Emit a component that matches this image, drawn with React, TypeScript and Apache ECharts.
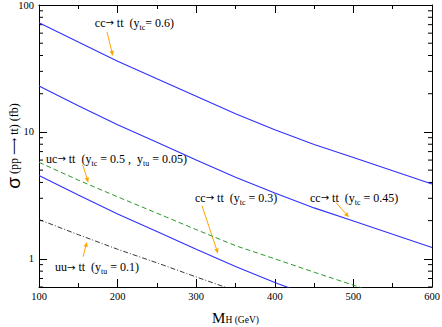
import React, { useEffect, useRef } from 'react';
import * as echarts from 'echarts';

// Higgs mass (GeV)
const massGeV = [100, 150, 200, 250, 300, 350, 400, 450, 500, 550, 600];
// sigma(pp -> tt) in fb
const ccTtYtc060 = [72.6, 51.0, 36.1, 26.2, 19.1, 13.9, 10.4, 7.96, 6.28, 4.94, 3.89];
const ccTtYtc045 = [23.0, 16.1, 11.4, 8.3, 6.0, 4.4, 3.3, 2.52, 1.99, 1.56, 1.23];
const ccTtYtc030 = [4.54, 3.19, 2.26, 1.64, 1.19, 0.87, 0.65, 0.5];
const ucTt = [5.76, 4.17, 3.08, 2.29, 1.7, 1.27, 1.0, 0.785, 0.62, 0.49];
const uuTt = [2.04, 1.55, 1.19, 0.93, 0.72, 0.56];

const xTickValues = [100, 200, 300, 400, 500, 600];
const yMajorLabels = [1, 10, 100];

// annotations: label anchor [M, sigma], arrow from/to [M, sigma]
const annotations = [
  { text: 'cc{a|→} tt  (y{s|tc}= 0.6)', at: [171, 72.2], from: [186.5, 61.3], to: [194, 39.7] },
  { text: 'uc{a|→} tt  (y{s|tc} = 0.5 ,  y{s|tu} = 0.05)', at: [109, 6.12], from: [155.6, 5.52], to: [162.7, 3.98] },
  { text: 'cc{a|→} tt  (y{s|tc} = 0.3)', at: [298.5, 3.03], from: [307.4, 2.62], to: [327.7, 1.1] },
  { text: 'cc{a|→} tt  (y{s|tc} = 0.45)', at: [444.8, 3.03], from: [477.9, 2.77], to: [494.4, 2.13] },
  { text: 'uu{a|→} tt  (y{s|tu} = 0.1)', at: [120.4, 0.855], from: [156, 1.04], to: [161, 1.36] },
];

const FONT = "'Liberation Serif', 'DejaVu Serif', 'Times New Roman', serif";

export default function App() {
  const ref = useRef<HTMLDivElement>(null);
  useEffect(() => {
    const chart = echarts.init(ref.current!, null, { renderer: 'svg' });
    const pair = (ys: number[]) => ys.map((y, i) => [massGeV[i], y]);
    const axisLine = { show: true, onZero: false, lineStyle: { color: '#000', width: 1 } };
    const blue = '#3030ff';
    const option: any = {
      animation: false,
      backgroundColor: '#fff',
      grid: { left: 39, top: 5, right: 10, bottom: 40, containLabel: false, outerBoundsMode: 'none' },
      xAxis: [
        {
          type: 'value', min: 100, max: 600, interval: 100, position: 'bottom',
          axisLine,
          axisTick: { show: true, inside: true, length: 8, lineStyle: { color: '#000' } },
          minorTick: { show: true, splitNumber: 2, length: 4, lineStyle: { color: '#000' } },
          splitLine: { show: false },
          axisLabel: {
            margin: 4, fontFamily: FONT, fontSize: 10.5, color: '#000',
            formatter: (v: number) => (xTickValues.includes(v) ? String(v) : ''),
          },
          name: '{m|M}{h|H (GeV)}',
          nameLocation: 'middle',
          nameGap: 21,
          nameMoveOverlap: false,
          nameTextStyle: {
            fontFamily: FONT, color: '#000',
            rich: {
              m: { fontSize: 15, fontFamily: FONT, lineHeight: 17, verticalAlign: 'bottom', color: '#000' },
              h: { fontSize: 9.5, fontFamily: FONT, lineHeight: 12, verticalAlign: 'bottom', color: '#000' },
            },
          },
        },
        {
          type: 'value', min: 100, max: 600, interval: 100, position: 'top',
          axisLine,
          axisTick: { show: true, inside: true, length: 8, lineStyle: { color: '#000' } },
          minorTick: { show: true, splitNumber: 2, length: 4, lineStyle: { color: '#000' } },
          splitLine: { show: false },
          axisLabel: { show: false },
        },
      ],
      yAxis: [
        {
          type: 'log', logBase: 10, min: 0.6, max: 100, position: 'left',
          axisLine,
          axisTick: { show: true, inside: true, length: 8, lineStyle: { color: '#000' } },
          splitLine: { show: false },
          axisLabel: {
            margin: 5, fontFamily: FONT, fontSize: 10.5, color: '#000',
            formatter: (v: number) => {
              const hit = yMajorLabels.find((t) => Math.abs(t - v) / t < 1e-6);
              return hit !== undefined ? String(hit) : '';
            },
          },
          name: '{g|σ} (pp ⟶ tt) (fb)',
          nameLocation: 'middle',
          nameGap: 16,
          nameRotate: 90,
          nameMoveOverlap: false,
          nameTextStyle: {
            fontFamily: FONT, color: '#000', fontSize: 12,
            rich: {
              g: { fontSize: 19, fontFamily: "'Liberation Sans', sans-serif", lineHeight: 19, verticalAlign: 'bottom', color: '#000' },
            },
          },
        },
        {
          type: 'log', logBase: 10, min: 0.6, max: 100, position: 'right',
          axisLine,
          axisTick: { show: true, inside: true, length: 8, lineStyle: { color: '#000' } },
          splitLine: { show: false },
          axisLabel: { show: false },
        },
      ],
      series: [
        { name: 'cc ytc=0.6', type: 'line', data: pair(ccTtYtc060), showSymbol: false, clip: true, lineStyle: { color: blue, width: 1.1 } },
        { name: 'cc ytc=0.45', type: 'line', data: pair(ccTtYtc045), showSymbol: false, clip: true, lineStyle: { color: blue, width: 1.1 } },
        { name: 'cc ytc=0.3', type: 'line', data: pair(ccTtYtc030), showSymbol: false, clip: true, lineStyle: { color: blue, width: 1.1 } },
        { name: 'uc', type: 'line', data: pair(ucTt), showSymbol: false, clip: true, lineStyle: { color: '#2a9a2a', width: 1, type: [5, 3] } },
        { name: 'uu', type: 'line', data: pair(uuTt), showSymbol: false, clip: true, lineStyle: { color: '#222', width: 0.9, type: [5, 2, 1, 2] } },
      ],
    };
    chart.setOption(option);

    const toPx = (p: number[]) => chart.convertToPixel({ seriesIndex: 0 }, p) as number[];
    const xL = chart.convertToPixel({ xAxisIndex: 0 }, 100) as number;
    const xR = chart.convertToPixel({ xAxisIndex: 0 }, 600) as number;
    const elements: any[] = [];
    // log minor ticks (2..9 per decade)
    [0.1, 1, 10].forEach((d) => {
      for (let k = 2; k <= 9; k++) {
        const v = k * d;
        if (v < 0.6 || v > 100) continue;
        const y = chart.convertToPixel({ yAxisIndex: 0 }, v) as number;
        elements.push({ type: 'line', silent: true, shape: { x1: xL, y1: y, x2: xL + 4, y2: y }, style: { stroke: '#000', lineWidth: 1 } });
        elements.push({ type: 'line', silent: true, shape: { x1: xR - 4, y1: y, x2: xR, y2: y }, style: { stroke: '#000', lineWidth: 1 } });
      }
    });
    const orange = '#ffa500';
    annotations.forEach((a) => {
      const [tx, ty] = toPx(a.at);
      elements.push({
        type: 'text', silent: true, x: tx, y: ty,
        style: {
          text: a.text, fill: '#000', fontFamily: FONT, fontSize: 12, lineHeight: 17,
          align: 'left', verticalAlign: 'middle',
          rich: {
            s: { fontSize: 8, fontFamily: FONT, lineHeight: 8, verticalAlign: 'bottom', fill: '#000' },
            a: { fontSize: 10, fontFamily: "'DejaVu Sans', sans-serif", lineHeight: 17, fill: '#000' },
          },
        },
      });
      const [x1, y1] = toPx(a.from);
      const [x2, y2] = toPx(a.to);
      const dx = x2 - x1, dy = y2 - y1;
      const len = Math.hypot(dx, dy) || 1;
      const ux = dx / len, uy = dy / len;
      const hl = 5, hw = 2.2;
      const bx = x2 - ux * hl, by = y2 - uy * hl;
      elements.push({ type: 'line', silent: true, shape: { x1, y1, x2: bx, y2: by }, style: { stroke: orange, lineWidth: 1 } });
      elements.push({
        type: 'polygon', silent: true,
        shape: { points: [[x2, y2], [bx - uy * hw, by + ux * hw], [bx + uy * hw, by - ux * hw]] },
        style: { fill: orange },
      });
    });
    chart.setOption({ graphic: elements });
    return () => chart.dispose();
  }, []);
  return <div ref={ref} style={{ position: 'fixed', left: 0, top: 0, width: 442, height: 327 }} />;
}
